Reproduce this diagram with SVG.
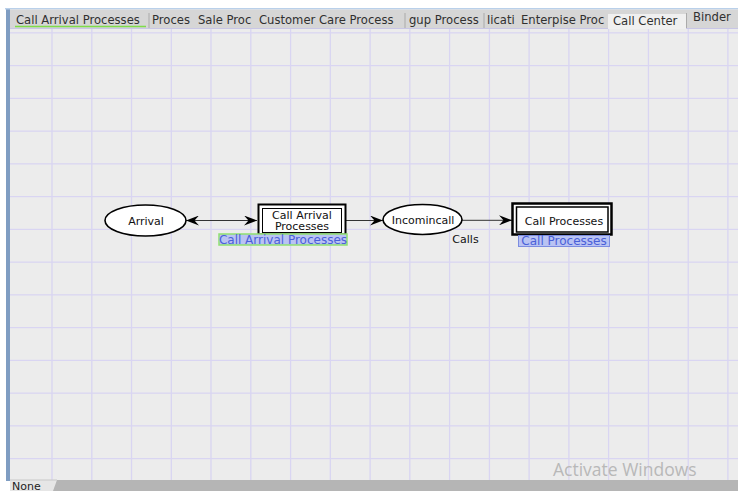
<svg xmlns="http://www.w3.org/2000/svg" width="738" height="491" viewBox="0 0 738 491">
<style>
.tab{font-family:"DejaVu Sans",sans-serif;font-size:11.6px;fill:#303030}
.nt{font-family:"DejaVu Sans",sans-serif;font-size:11px;fill:#111;text-anchor:middle}
.lbl{font-family:"DejaVu Sans",sans-serif;font-size:12px;fill:#4a60d8;text-anchor:middle}
.grid line{stroke:#d9d5f2;stroke-width:1.3}
.conn line{stroke:#333;stroke-width:1}
</style>
<defs>
<marker id="ah" markerUnits="userSpaceOnUse" markerWidth="13" markerHeight="10" refX="13" refY="5" orient="auto-start-reverse">
<path d="M0,0 L13,5 L0,10 L4.5,5 z" fill="#000"/>
</marker>
</defs>
<rect x="0" y="0" width="738" height="491" fill="#ffffff"/>
<rect x="10" y="28" width="728" height="453" fill="#ececec"/>
<g class="grid">
<line x1="52" y1="28" x2="52" y2="481"/><line x1="91.8" y1="28" x2="91.8" y2="481"/><line x1="131.5" y1="28" x2="131.5" y2="481"/><line x1="171.3" y1="28" x2="171.3" y2="481"/><line x1="211" y1="28" x2="211" y2="481"/><line x1="250.8" y1="28" x2="250.8" y2="481"/><line x1="290.6" y1="28" x2="290.6" y2="481"/><line x1="330.3" y1="28" x2="330.3" y2="481"/><line x1="370.1" y1="28" x2="370.1" y2="481"/><line x1="409.8" y1="28" x2="409.8" y2="481"/><line x1="449.6" y1="28" x2="449.6" y2="481"/><line x1="489.4" y1="28" x2="489.4" y2="481"/><line x1="529.1" y1="28" x2="529.1" y2="481"/><line x1="568.9" y1="28" x2="568.9" y2="481"/><line x1="608.6" y1="28" x2="608.6" y2="481"/><line x1="648.4" y1="28" x2="648.4" y2="481"/><line x1="688.2" y1="28" x2="688.2" y2="481"/><line x1="727.9" y1="28" x2="727.9" y2="481"/>
<line x1="10" y1="32.9" x2="738" y2="32.9"/><line x1="10" y1="65.7" x2="738" y2="65.7"/><line x1="10" y1="98.4" x2="738" y2="98.4"/><line x1="10" y1="131.2" x2="738" y2="131.2"/><line x1="10" y1="163.9" x2="738" y2="163.9"/><line x1="10" y1="196.7" x2="738" y2="196.7"/><line x1="10" y1="229.4" x2="738" y2="229.4"/><line x1="10" y1="262.2" x2="738" y2="262.2"/><line x1="10" y1="294.9" x2="738" y2="294.9"/><line x1="10" y1="327.7" x2="738" y2="327.7"/><line x1="10" y1="360.4" x2="738" y2="360.4"/><line x1="10" y1="393.2" x2="738" y2="393.2"/><line x1="10" y1="425.9" x2="738" y2="425.9"/><line x1="10" y1="458.7" x2="738" y2="458.7"/>
</g>
<rect x="6" y="9" width="4" height="472" fill="#7f9dc2"/>
<rect x="5" y="8" width="733" height="1.5" fill="#b9d0ea"/>
<rect x="10" y="9.5" width="728" height="19" fill="#d6d6d6"/>
<line x1="10" y1="28.5" x2="738" y2="28.5" stroke="#c8c6e6" stroke-width="1"/>
<g id="tabs">
<line x1="15" y1="26.5" x2="146" y2="26.5" stroke="#7edc4a" stroke-width="1.5"/>
<text class="tab" x="16" y="24">Call Arrival Processes</text>
<line x1="149" y1="13" x2="149" y2="28" stroke="#aaaaaa"/>
<text class="tab" x="152" y="24">Proces</text>
<text class="tab" x="198" y="24">Sale Proc</text>
<text class="tab" x="259" y="24">Customer Care Process</text>
<line x1="405" y1="13" x2="405" y2="28" stroke="#aaaaaa"/>
<text class="tab" x="409" y="24">gup Process</text>
<line x1="484" y1="13" x2="484" y2="28" stroke="#aaaaaa"/>
<text class="tab" x="487" y="24">licati</text>
<text class="tab" x="521" y="24">Enterpise Proc</text>
<rect x="608" y="14" width="78" height="15" fill="#f0f0f0"/>
<line x1="686.5" y1="13" x2="686.5" y2="28" stroke="#aaaaaa"/>
<text class="tab" x="613" y="24.5">Call Center</text>
<text class="tab" x="693" y="21">Binder</text>
</g>
<g id="connectors" class="conn">
<line x1="186" y1="220.5" x2="257" y2="220.5" marker-start="url(#ah)" marker-end="url(#ah)"/>
<line x1="346" y1="220.5" x2="383" y2="220.5" marker-end="url(#ah)"/>
<line x1="462" y1="220.3" x2="512" y2="220.3" marker-end="url(#ah)"/>
<text class="nt" x="465.5" y="242.5">Calls</text>
</g>
<g id="arrival">
<ellipse cx="145.5" cy="220.5" rx="40.5" ry="15.5" fill="#fff" stroke="#000" stroke-width="1.6"/>
<text class="nt" x="146" y="224.5">Arrival</text>
</g>
<g id="callArrivalProcesses">
<rect x="258.5" y="204.5" width="87" height="30" fill="#fff" stroke="#000" stroke-width="2"/>
<rect x="262.5" y="208.5" width="79" height="24" fill="#fff" stroke="#000" stroke-width="1"/>
<text class="nt" x="302" y="218.5">Call Arrival</text>
<text class="nt" x="302" y="230">Processes</text>
<rect x="219" y="234" width="128" height="11" fill="#b9c3f3" stroke="#8ee070" stroke-width="1.5"/>
<text class="lbl" x="283" y="243.5">Call Arrival Processes</text>
</g>
<g id="incomincall">
<ellipse cx="422.5" cy="219.5" rx="39.5" ry="15" fill="#fff" stroke="#000" stroke-width="1.6"/>
<text class="nt" x="423" y="223.5">Incomincall</text>
</g>
<g id="callProcesses">
<rect x="512.5" y="203.5" width="99" height="31" fill="#fff" stroke="#000" stroke-width="2.5"/>
<rect x="516.5" y="207" width="91.5" height="25" fill="#fff" stroke="#000" stroke-width="1.5"/>
<text class="nt" x="564" y="224.5">Call Processes</text>
<rect x="518.5" y="235.5" width="91" height="11" fill="#b9c3f3" stroke="#7c8ce0" stroke-width="1"/>
<text class="lbl" x="564" y="245">Call Processes</text>
</g>
<text x="553" y="476" style="font-family:'Open Sans',sans-serif;font-size:17.5px;fill:#b8b8b8">Activate Windows</text>
<rect x="10" y="480" width="728" height="11" fill="#e6e6e6"/>
<path d="M57,480 L738,480 L738,491 L53,491 Z" fill="#b5b5b5"/>
<line x1="10" y1="480" x2="57" y2="480" stroke="#c8c8c8"/>
<text x="12" y="489.5" style="font-family:'DejaVu Sans',sans-serif;font-size:11px;fill:#222">None</text>
</svg>
